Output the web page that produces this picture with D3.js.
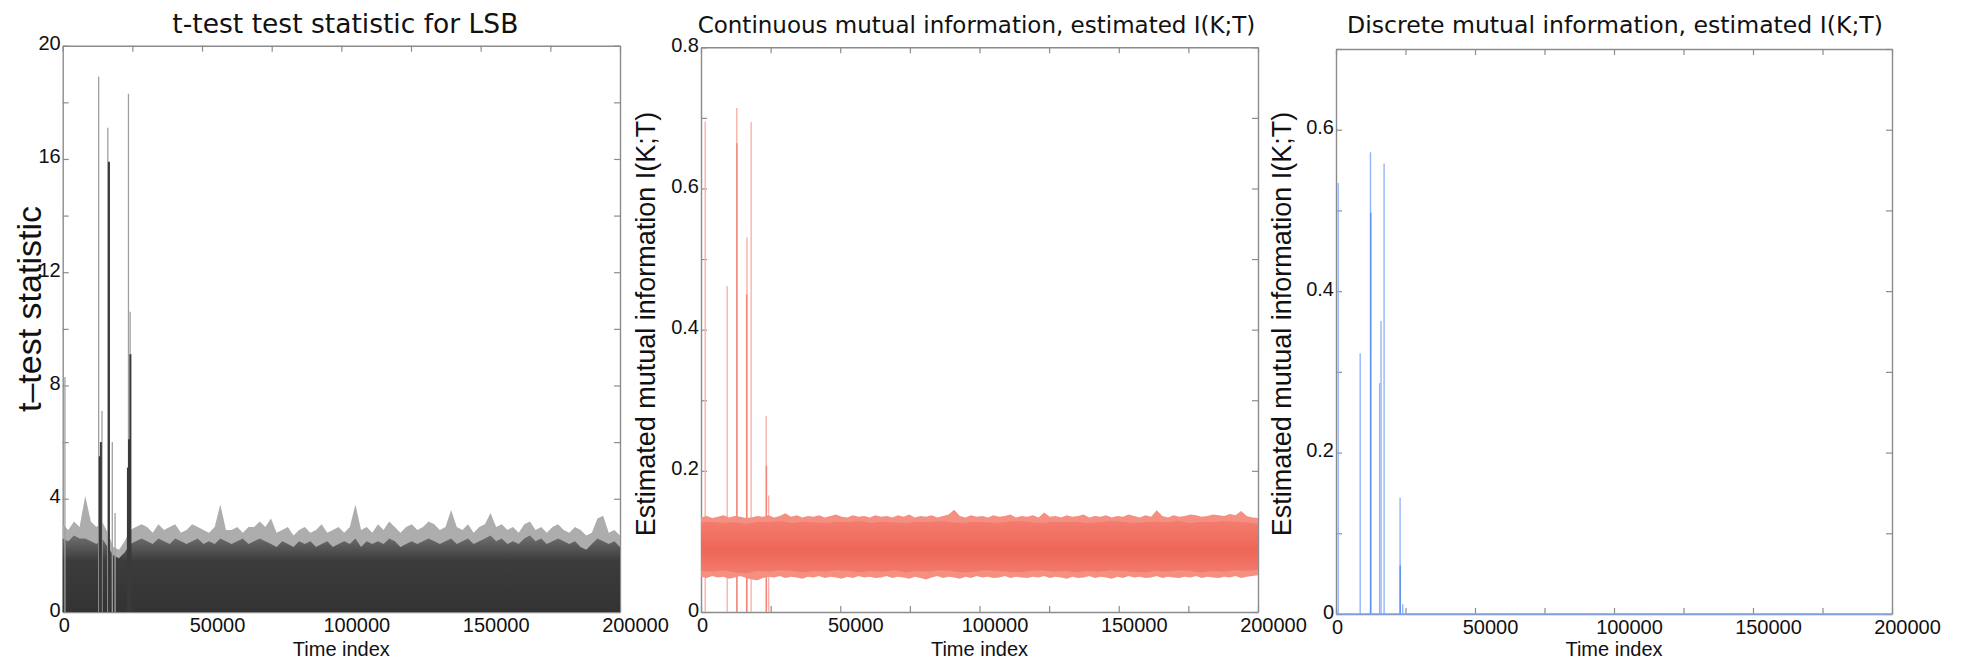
<!DOCTYPE html>
<html>
<head>
<meta charset="utf-8">
<script src="https://cdn.jsdelivr.net/npm/d3@7"></script>
<style>
body { margin: 0; background: #fff; }
svg text { font-family: "Liberation Sans", Arial, sans-serif; fill: #111; }
svg text.title { font-family: "DejaVu Sans", "Open Sans", sans-serif; }
</style>
</head>
<body>
<svg id="chart" width="1962" height="661"></svg>
<script>
// ---- data ----
const xTicks = d3.range(0, 200001, 25000)
const xLabels = [0, 50000, 100000, 150000, 200000]

// t-test statistic: envelope of the dense trace (100 bins over 0..200000)
const ttPeak = [
  3.1, 2.9, 3.2, 3.0, 4.1, 3.2, 3.0, 3.2, 2.8, 2.3,
  2.2, 2.5, 2.9, 3.0, 3.1, 3.0, 2.8, 3.1, 2.9, 3.0,
  3.1, 2.8, 2.9, 3.1, 3.0, 2.9, 2.8, 3.0, 3.8, 2.9,
  2.9, 3.0, 2.8, 3.0, 3.0, 3.2, 3.0, 3.3, 2.8, 2.9,
  3.0, 2.7, 2.9, 3.0, 2.8, 2.9, 3.1, 2.8, 2.9, 3.0,
  2.8, 3.0, 3.8, 2.9, 3.0, 2.8, 3.1, 2.9, 3.2, 3.0,
  2.8, 3.0, 3.1, 2.9, 3.0, 3.2, 3.1, 2.9, 3.0, 3.6,
  3.0, 2.9, 3.1, 2.8, 3.0, 3.1, 3.5, 3.0, 3.1, 2.9,
  3.0, 2.8, 3.1, 3.2, 2.9, 3.0, 2.8, 3.0, 3.1, 2.9,
  2.8, 3.0, 2.9, 2.7, 2.8, 3.3, 3.4, 2.8, 2.9, 2.7
]
const ttDense = [
  2.6, 2.5, 2.7, 2.6, 2.6, 2.5, 2.4, 2.6, 2.3, 2.0,
  1.9, 2.1, 2.4, 2.5, 2.6, 2.5, 2.4, 2.6, 2.5, 2.4,
  2.6, 2.5, 2.4, 2.5, 2.6, 2.4, 2.5, 2.4, 2.6, 2.5,
  2.4, 2.5, 2.6, 2.4, 2.5, 2.6, 2.5, 2.4, 2.3, 2.5,
  2.4, 2.3, 2.5, 2.4, 2.5, 2.3, 2.4, 2.5, 2.3, 2.4,
  2.5, 2.4, 2.6, 2.3, 2.5, 2.4, 2.5, 2.4, 2.6, 2.5,
  2.3, 2.4, 2.5, 2.4, 2.5, 2.6, 2.5, 2.4, 2.5, 2.6,
  2.4, 2.5, 2.6, 2.4, 2.5, 2.6, 2.7, 2.5, 2.6, 2.4,
  2.5, 2.4, 2.6, 2.7, 2.5, 2.6, 2.4, 2.5, 2.6, 2.5,
  2.4, 2.5, 2.3, 2.2, 2.4, 2.6, 2.5, 2.4, 2.5, 2.3
]
const ttLightT = [800, 12900, 14100, 16200, 17800, 18800, 23600, 24200]
const ttLightV = [8.3, 18.9, 7.1, 17.1, 6.0, 3.5, 18.3, 10.6]
const ttDarkT = [13300, 13700, 16600, 23400, 23800, 24300]
const ttDarkV = [5.5, 6.0, 15.9, 5.1, 6.1, 9.1]

// continuous MI: band edges
const cmiUpPeak = [
  0.134, 0.136, 0.133, 0.135, 0.137, 0.134, 0.136, 0.135, 0.133, 0.134,
  0.136, 0.135, 0.137, 0.134, 0.136, 0.140, 0.135, 0.137, 0.134, 0.136,
  0.135, 0.137, 0.134, 0.136, 0.138, 0.135, 0.134, 0.137, 0.135, 0.136,
  0.134, 0.137, 0.135, 0.136, 0.134, 0.137, 0.135, 0.138, 0.134, 0.136,
  0.135, 0.137, 0.134, 0.136, 0.138, 0.145, 0.136, 0.134, 0.137, 0.135,
  0.136, 0.134, 0.137, 0.135, 0.136, 0.138, 0.134, 0.136, 0.135, 0.137,
  0.134, 0.141, 0.135, 0.136, 0.134, 0.137, 0.135, 0.136, 0.138, 0.134,
  0.136, 0.135, 0.137, 0.134, 0.136, 0.135, 0.138, 0.136, 0.134, 0.137,
  0.135, 0.144, 0.136, 0.134, 0.137, 0.135, 0.136, 0.138, 0.137, 0.135,
  0.136, 0.138, 0.137, 0.136, 0.139, 0.137, 0.143, 0.136, 0.134, 0.133
]
const cmiLoPeak = [
  0.050, 0.048, 0.051, 0.049, 0.050, 0.047, 0.049, 0.051, 0.048, 0.046,
  0.045, 0.048, 0.050, 0.049, 0.051, 0.048, 0.050, 0.049, 0.047, 0.050,
  0.049, 0.051, 0.048, 0.050, 0.049, 0.047, 0.050, 0.048, 0.051, 0.049,
  0.050, 0.048, 0.049, 0.051, 0.048, 0.050, 0.049, 0.047, 0.050, 0.048,
  0.046, 0.049, 0.051, 0.048, 0.050, 0.049, 0.047, 0.050, 0.048, 0.051,
  0.049, 0.050, 0.048, 0.049, 0.051, 0.048, 0.050, 0.049, 0.048, 0.050,
  0.049, 0.051, 0.048, 0.050, 0.049, 0.047, 0.050, 0.048, 0.049, 0.051,
  0.048, 0.050, 0.049, 0.047, 0.050, 0.048, 0.051, 0.049, 0.050, 0.048,
  0.049, 0.051, 0.048, 0.050, 0.049, 0.048, 0.050, 0.049, 0.051, 0.048,
  0.050, 0.049, 0.048, 0.050, 0.049, 0.051, 0.048, 0.050, 0.051, 0.052
]
const cmiUpDense = [
  0.127, 0.128, 0.126, 0.127, 0.125, 0.128, 0.127, 0.129, 0.126, 0.128,
  0.127, 0.126, 0.128, 0.127, 0.129, 0.126, 0.128, 0.127, 0.126, 0.128,
  0.127, 0.129, 0.127, 0.126, 0.128, 0.127, 0.126, 0.128, 0.129, 0.127,
  0.126, 0.128, 0.127, 0.128, 0.126, 0.127, 0.129, 0.128, 0.126, 0.127,
  0.128, 0.127, 0.129, 0.126, 0.128, 0.127, 0.129, 0.128, 0.127, 0.125
]
const cmiLoDense = [
  0.058, 0.057, 0.059, 0.056, 0.055, 0.058, 0.057, 0.059, 0.058, 0.056,
  0.058, 0.057, 0.059, 0.058, 0.056, 0.058, 0.057, 0.059, 0.056, 0.058,
  0.057, 0.059, 0.058, 0.056, 0.057, 0.059, 0.058, 0.057, 0.056, 0.058,
  0.059, 0.057, 0.058, 0.056, 0.058, 0.057, 0.059, 0.058, 0.057, 0.056,
  0.058, 0.057, 0.059, 0.058, 0.056, 0.058, 0.057, 0.059, 0.058, 0.060
]
const cmiLightT = [1500, 9400, 12850, 16500, 18000, 23400, 24300]
const cmiLightV = [0.695, 0.462, 0.714, 0.531, 0.694, 0.278, 0.165]
const cmiDarkT = [12900, 16400, 23500]
const cmiDarkV = [0.664, 0.45, 0.207]

// discrete MI: zero almost everywhere, a few spikes
const dmiLightT = [800, 8700, 12400, 15700, 16200, 17300, 23050, 24000]
const dmiLightV = [0.534, 0.323, 0.572, 0.286, 0.363, 0.558, 0.144, 0.012]
const dmiDarkT = [12500, 23100]
const dmiDarkV = [0.497, 0.060]
const dmiZeroT = [0, 200000]
const dmiZeroV = [0, 0]

// ---- drawing ----
const svg = d3.select('#chart')
const frameCol = '#8c8c8c'
const defs = svg.append('defs')

const toPoints = (vals) => vals.map((v, i) => ({ t: i * 200000 / (vals.length - 1), v }))
const zip = (ts, vs) => ts.map((t, i) => ({ t, v: vs[i] }))

function panel(p) {
	const x = d3.scaleLinear().domain([0, 200000]).range([p.left, p.right])
	const y = d3.scaleLinear().domain([0, p.yMax]).range([p.bottom, p.top])
	const g = svg.append('g')
	const yTicks = d3.range(0, Math.round(p.yMax / p.yStep) + 1).map(i => +(i * p.yStep).toFixed(2))

	// box with inward ticks on all four sides
	const sides = [
		[d3.axisBottom(x).tickValues(xTicks), `translate(0,${p.bottom})`],
		[d3.axisTop(x).tickValues(xTicks), `translate(0,${p.top})`],
		[d3.axisLeft(y).tickValues(yTicks), `translate(${p.left},0)`],
		[d3.axisRight(y).tickValues(yTicks), `translate(${p.right},0)`]
	]
	sides.forEach(([ax, tr]) => {
		const a = g.append('g').attr('transform', tr)
			.call(ax.tickSizeInner(-6).tickSizeOuter(0).tickFormat(''))
		a.select('.domain').attr('stroke', frameCol).attr('stroke-width', 1.4)
		a.selectAll('line').attr('stroke', frameCol).attr('stroke-width', 1.2)
	})

	// tick labels
	const xl = g.append('g').attr('transform', `translate(0,${p.bottom})`)
		.call(d3.axisBottom(x).tickValues(xLabels).tickSize(0).tickFormat(d3.format('d')))
	xl.select('.domain').remove()
	xl.selectAll('text').attr('y', 20).attr('dy', 0).attr('dx', d => d ? 15 : 1)
		.style('font-size', '20px').attr('fill', '#111')

	const yl = g.append('g').attr('transform', `translate(${p.left},0)`)
		.call(d3.axisLeft(y).tickValues(p.yLabels).tickSize(0).tickFormat(d => String(d)))
	yl.select('.domain').remove()
	yl.selectAll('text').attr('x', -2).attr('dy', 4)
		.style('font-size', '20px').attr('fill', '#111')

	// title, sized to the width it takes in the picture
	const title = g.append('text').attr('class', 'title')
		.attr('x', (p.left + p.right) / 2 + p.titleShift).attr('y', 33)
		.attr('text-anchor', 'middle').style('font-size', '24px')
		.text(p.title)
	const w = title.node().getComputedTextLength()
	title.style('font-size', (24 * p.titleWidth / w).toFixed(2) + 'px')

	g.append('text')
		.attr('x', (p.left + p.right) / 2).attr('y', 656)
		.attr('text-anchor', 'middle').style('font-size', '20px')
		.text('Time index')
	g.append('text')
		.attr('transform', `translate(${p.ylabelX},${p.ylabelY}) rotate(-90)`)
		.attr('text-anchor', 'middle').style('font-size', p.ylabelSize + 'px')
		.text(p.ylabel)

	return { x, y, g }
}

function spikes(g, x, y, data, color, width) {
	g.append('g').selectAll('line').data(data).join('line')
		.attr('x1', d => x(d.t)).attr('x2', d => x(d.t))
		.attr('y1', y(0)).attr('y2', d => y(d.v))
		.attr('stroke', color).attr('stroke-width', width)
}

// panel 1: t-test
{
	const { x, y, g } = panel({
		left: 62.7, right: 620, top: 45.7, bottom: 612, yMax: 20, yStep: 2,
		yLabels: [0, 4, 8, 12, 16, 20],
		title: 't-test test statistic for LSB', titleWidth: 346, titleShift: 4,
		ylabel: 't–test statistic', ylabelSize: 34, ylabelX: 41, ylabelY: 309
	})
	const grad = defs.append('linearGradient').attr('id', 'ttGrad')
		.attr('gradientUnits', 'userSpaceOnUse')
		.attr('x1', 0).attr('x2', 0).attr('y1', y(0)).attr('y2', y(2.6))
	grad.append('stop').attr('offset', '0%').attr('stop-color', '#333333')
	grad.append('stop').attr('offset', '70%').attr('stop-color', '#3c3c3c')
	grad.append('stop').attr('offset', '100%').attr('stop-color', '#6a6a6a')

	const area = d3.area().x(d => x(d.t)).y0(y(0)).y1(d => y(d.v))
	g.append('path').datum(toPoints(ttPeak)).attr('d', area).attr('fill', '#adadad')
	g.append('path').datum(toPoints(ttDense)).attr('d', area).attr('fill', 'url(#ttGrad)')
	spikes(g, x, y, zip(ttLightT, ttLightV), '#a0a0a0', 1.3)
	spikes(g, x, y, zip(ttDarkT, ttDarkV), '#3a3a3a', 2)
}

// panel 2: continuous MI
{
	const { x, y, g } = panel({
		left: 701, right: 1258, top: 47.3, bottom: 612, yMax: 0.8, yStep: 0.1,
		yLabels: [0, 0.2, 0.4, 0.6, 0.8],
		title: 'Continuous mutual information, estimated I(K;T)', titleWidth: 558, titleShift: -3,
		ylabel: 'Estimated mutual information I(K;T)', ylabelSize: 27, ylabelX: 655, ylabelY: 324
	})
	const grad = defs.append('linearGradient').attr('id', 'cmiGrad')
		.attr('gradientUnits', 'userSpaceOnUse')
		.attr('x1', 0).attr('x2', 0).attr('y1', y(0.055)).attr('y2', y(0.13))
	grad.append('stop').attr('offset', '0%').attr('stop-color', '#f37b6d')
	grad.append('stop').attr('offset', '45%').attr('stop-color', '#ee6657')
	grad.append('stop').attr('offset', '100%').attr('stop-color', '#f37d6f')

	const up = toPoints(cmiUpPeak), lo = toPoints(cmiLoPeak)
	const outer = up.map((d, i) => ({ t: d.t, hi: d.v, lo: lo[i].v }))
	const uD = toPoints(cmiUpDense), lD = toPoints(cmiLoDense)
	const inner = uD.map((d, i) => ({ t: d.t, hi: d.v, lo: lD[i].v }))
	const band = d3.area().x(d => x(d.t)).y0(d => y(d.lo)).y1(d => y(d.hi))

	spikes(g, x, y, zip(cmiLightT, cmiLightV), '#f9b3aa', 1.4)
	spikes(g, x, y, zip(cmiDarkT, cmiDarkV), '#f28577', 1.4)
	g.append('path').datum(outer).attr('d', band).attr('fill', '#f58f82')
	g.append('path').datum(inner).attr('d', band).attr('fill', 'url(#cmiGrad)')
}

// panel 3: discrete MI
{
	const { x, y, g } = panel({
		left: 1336, right: 1892, top: 49, bottom: 614, yMax: 0.7, yStep: 0.1,
		yLabels: [0, 0.2, 0.4, 0.6],
		title: 'Discrete mutual information, estimated I(K;T)', titleWidth: 536, titleShift: 1,
		ylabel: 'Estimated mutual information I(K;T)', ylabelSize: 27, ylabelX: 1291, ylabelY: 324
	})
	spikes(g, x, y, zip(dmiLightT, dmiLightV), '#93b5f7', 1.4)
	spikes(g, x, y, zip(dmiDarkT, dmiDarkV), '#5f8fef', 1.4)
	g.append('path').datum(zip(dmiZeroT, dmiZeroV))
		.attr('d', d3.line().x(d => x(d.t)).y(d => y(d.v)))
		.attr('stroke', '#7ea6f4').attr('stroke-width', 1.6).attr('fill', 'none')
}
</script>
</body>
</html>
